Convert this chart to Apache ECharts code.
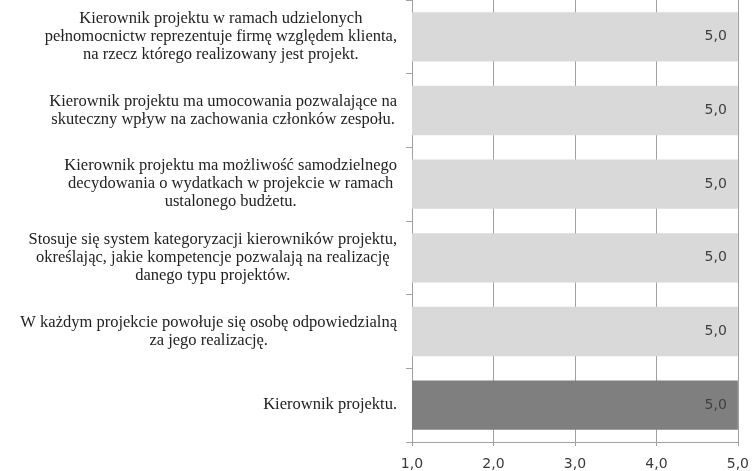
<!DOCTYPE html>
<html>
<head>
<meta charset="utf-8">
<script src="https://cdn.jsdelivr.net/npm/echarts@6/dist/echarts.min.js"></script>
<style>
  html, body { margin: 0; padding: 0; background: #fff; }
  #chart { width: 752px; height: 471px; }
</style>
</head>
<body>
<div id="chart"></div>
<script>
// Survey statements (top to bottom) and their mean scores
const categories = [
  'Kierownik projektu w ramach udzielonych\npełnomocnictw reprezentuje firmę względem klienta,\nna rzecz którego realizowany jest projekt.',
  'Kierownik projektu ma umocowania pozwalające na\nskuteczny wpływ na zachowania członków zespołu.',
  'Kierownik projektu ma możliwość samodzielnego\ndecydowania o wydatkach w projekcie w ramach\nustalonego budżetu.',
  'Stosuje się system kategoryzacji kierowników projektu,\nokreślając, jakie kompetencje pozwalają na realizację\ndanego typu projektów.',
  'W każdym projekcie powołuje się osobę odpowiedzialną\nza jego realizację.',
  'Kierownik projektu.'
];
const scores = [5.0, 5.0, 5.0, 5.0, 5.0, 5.0];
const axisMin = 1.0;
const axisMax = 5.0;
const axisStep = 1.0;

const fmt = v => v.toFixed(1).replace('.', ',');

const chart = echarts.init(document.getElementById('chart'));
chart.setOption({
  animation: false,
  backgroundColor: '#ffffff',
  grid: { left: 412, right: 13, top: -2, bottom: 28, containLabel: false },
  xAxis: {
    type: 'value',
    min: axisMin,
    max: axisMax,
    interval: axisStep,
    axisLine: { show: true, lineStyle: { color: '#a0a0a0', width: 1 } },
    axisTick: { show: true, length: 4, lineStyle: { color: '#a0a0a0' } },
    splitLine: { show: true, lineStyle: { color: '#a0a0a0', width: 1 } },
    axisLabel: {
      formatter: fmt,
      color: '#3a3a3a',
      fontFamily: 'DejaVu Sans',
      fontSize: 14,
      margin: 15
    }
  },
  yAxis: {
    type: 'category',
    inverse: true,
    data: categories,
    axisLine: { show: true, lineStyle: { color: '#a0a0a0', width: 1 } },
    axisTick: { show: true, length: 6, lineStyle: { color: '#a0a0a0' } },
    splitLine: { show: false },
    axisLabel: {
      margin: 15,
      align: 'right',
      formatter: v => v.split('\n').map(s => '{c|' + s + '}').join('\n'),
      rich: {
        c: {
          align: 'center',
          fontFamily: 'Liberation Serif',
          fontSize: 16.5,
          lineHeight: 18,
          color: '#222222'
        }
      }
    }
  },
  series: [{
    type: 'bar',
    data: scores,
    barCategoryGap: '33%',
    itemStyle: {
      color: p => p.dataIndex === categories.length - 1 ? '#7f7f7f' : '#d9d9d9'
    },
    label: {
      show: true,
      position: 'insideRight',
      distance: 11,
      formatter: p => fmt(p.value),
      color: '#404040',
      fontFamily: 'DejaVu Sans',
      fontSize: 14
    }
  }]
});
</script>
</body>
</html>
